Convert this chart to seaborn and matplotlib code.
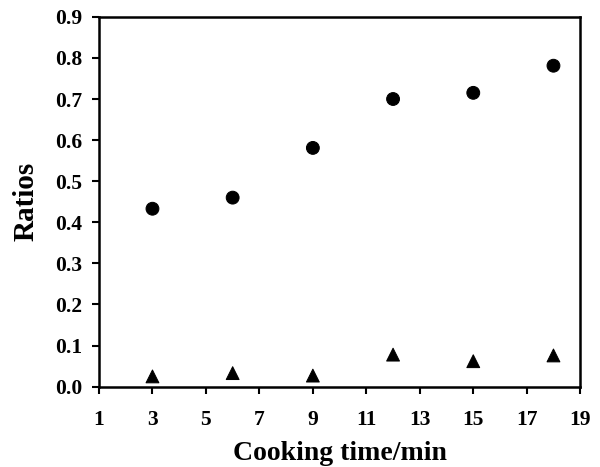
import matplotlib
matplotlib.use("Agg")
import matplotlib.pyplot as plt
import seaborn as sns
import pandas as pd

cooking_time = [3, 6, 9, 12, 15, 18]
ratio_circle = [0.433, 0.460, 0.581, 0.700, 0.715, 0.781]
ratio_triangle = [0.025, 0.033, 0.027, 0.078, 0.062, 0.076]
x_ticks = [1, 3, 5, 7, 9, 11, 13, 15, 17, 19]
y_ticks = [0.0, 0.1, 0.2, 0.3, 0.4, 0.5, 0.6, 0.7, 0.8, 0.9]

sns.set_theme(style="ticks")
plt.rcParams['font.family'] = ['Liberation Serif', 'DejaVu Serif']
plt.rcParams['font.weight'] = 'bold'

df = pd.DataFrame({
    "time": cooking_time * 2,
    "ratio": ratio_circle + ratio_triangle,
    "series": ["circle"] * len(cooking_time) + ["triangle"] * len(cooking_time),
})

fig = plt.figure(figsize=(6.0, 4.67), dpi=100)
ax = fig.add_axes([0.165, 0.172, 0.802, 0.792])

sns.scatterplot(data=df, x="time", y="ratio", style="series",
                markers={"circle": "o", "triangle": "^"},
                color="black", edgecolor="black", s=85, legend=False, ax=ax)

ax.set_xlim(1, 19)
ax.set_ylim(0, 0.9)
ax.set_xticks(x_ticks)
ax.set_yticks(y_ticks)
ax.set_yticklabels([f"{v:.1f}" for v in y_ticks])
ax.tick_params(axis="both", direction="out", length=5, width=1.5,
               labelsize=15.5, colors="black", labelcolor="black")
ax.tick_params(axis="x", pad=12)
ax.tick_params(axis="y", pad=7)
for lab in ax.get_xticklabels() + ax.get_yticklabels():
    lab.set_fontweight("bold")
for sp in ax.spines.values():
    sp.set_visible(True)
    sp.set_linewidth(1.8)
    sp.set_color("black")
ax.set_xlabel("Cooking time/min", fontsize=20, fontweight="bold",
              color="black", labelpad=8)
ax.set_ylabel("Ratios", fontsize=21, fontweight="bold",
              color="black", labelpad=11)

fig.savefig("out.png", dpi=100)
